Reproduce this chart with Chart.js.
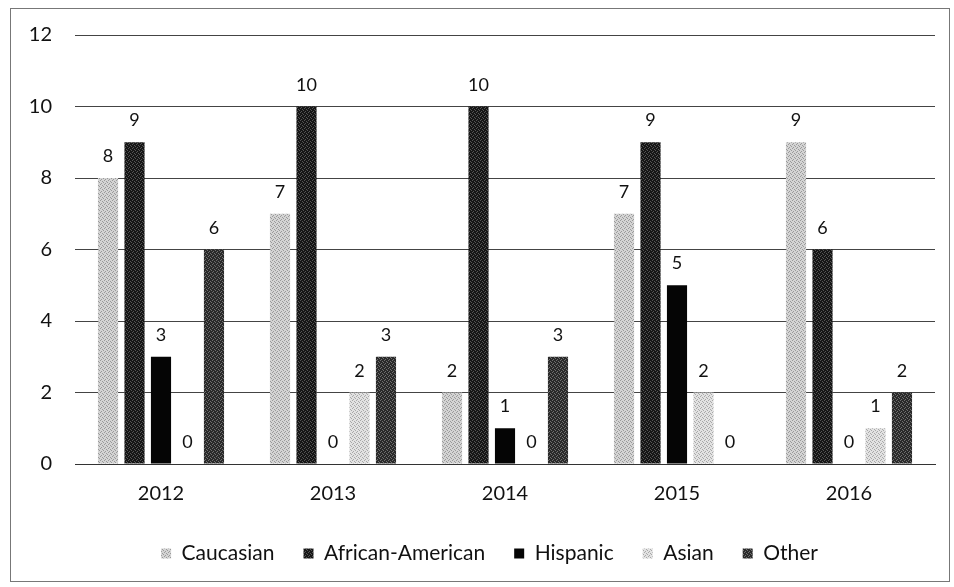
<!DOCTYPE html>
<html lang="en">
<head>
<meta charset="UTF-8">
<title>Grafico</title>
<style>
  html, body { margin: 0; padding: 0; background: #fff; }
  #grafico { display: block; }
</style>
</head>
<body>
<canvas id="grafico" width="954" height="587"></canvas>

<script src="https://cdn.jsdelivr.net/npm/chart.js"></script>
<script>
// dados
const anos = ['2012', '2013', '2014', '2015', '2016'];
const caucasian = [8, 7, 2, 7, 9];
const africanAmerican = [9, 10, 10, 9, 6];
const hispanic = [3, 0, 1, 5, 0];
const asian = [0, 2, 0, 2, 1];
const other = [6, 3, 3, 0, 2];
const yTicks = [0, 2, 4, 6, 8, 10, 12];

const fonte = "Lato, 'Open Sans', sans-serif";

// textura pontilhada (só estilo)
function textura(fundo, ponto) {
  const c = document.createElement('canvas');
  c.width = 4; c.height = 4;
  const g = c.getContext('2d');
  g.fillStyle = fundo;
  g.fillRect(0, 0, 4, 4);
  g.fillStyle = ponto;
  g.fillRect(0, 0, 1, 1);
  g.fillRect(2, 1, 1, 1);
  g.fillRect(1, 3, 1, 1);
  g.fillRect(3, 2, 1, 1);
  return g.createPattern(c, 'repeat');
}

// rótulos acima das barras
const rotulos = {
  id: 'rotulos',
  afterDatasetsDraw(chart) {
    const ctx = chart.ctx;
    ctx.save();
    ctx.font = '18px ' + fonte;
    ctx.fillStyle = '#111';
    ctx.textAlign = 'center';
    ctx.textBaseline = 'alphabetic';
    chart.data.datasets.forEach((ds, i) => {
      chart.getDatasetMeta(i).data.forEach((bar, j) => {
        ctx.fillText(String(ds.data[j]), bar.x, bar.y - 16);
      });
    });
    ctx.restore();
  }
};

// moldura + deslocar a legenda um pouco para a direita
const moldura = {
  id: 'moldura',
  afterLayout(chart) {
    chart.legend.left += 22;
    chart.legend.right += 22;
  },
  beforeDraw(chart) {
    const ctx = chart.ctx;
    ctx.save();
    ctx.fillStyle = '#fff';
    ctx.fillRect(0, 0, chart.width, chart.height);
    ctx.strokeStyle = '#777';
    ctx.lineWidth = 1;
    ctx.strokeRect(10.5, 8.5, 939, 573);
    ctx.restore();
  }
};

new Chart(document.getElementById('grafico'), {
  type: 'bar',
  data: {
    labels: anos,
    datasets: [
      { label: 'Caucasian', data: caucasian, backgroundColor: textura('#d4d4d4', '#9a9a9a') },
      { label: 'African-American', data: africanAmerican, backgroundColor: textura('#161616', '#555555') },
      { label: 'Hispanic', data: hispanic, backgroundColor: '#050505' },
      { label: 'Asian', data: asian, backgroundColor: textura('#e2e2e2', '#a8a8a8') },
      { label: 'Other', data: other, backgroundColor: textura('#2a2a2a', '#707070') }
    ]
  },
  options: {
    responsive: false,
    animation: false,
    layout: { padding: { left: 0, right: 19, top: 33, bottom: 13 } },
    datasets: { bar: { categoryPercentage: 0.77, barPercentage: 0.76 } },
    plugins: {
      legend: {
        position: 'bottom',
        labels: {
          font: { size: 21, family: fonte },
          color: '#111',
          boxWidth: 10,
          boxHeight: 10,
          padding: 29
        }
      },
      tooltip: { enabled: false }
    },
    scales: {
      x: {
        grid: { display: false, drawTicks: false },
        border: { color: '#333', width: 1 },
        ticks: { font: { size: 20, family: fonte }, color: '#111', padding: 18 },
        afterFit: axis => { axis.height = 50; }
      },
      y: {
        min: 0,
        max: 12,
        afterBuildTicks: axis => { axis.ticks = yTicks.map(v => ({ value: v })); },
        grid: { color: '#444', drawTicks: false },
        border: { display: false },
        ticks: { font: { size: 20, family: fonte }, color: '#111', padding: 23 },
        afterFit: axis => { axis.width = 75; }
      }
    }
  },
  plugins: [moldura, rotulos]
});
</script>
</body>
</html>
